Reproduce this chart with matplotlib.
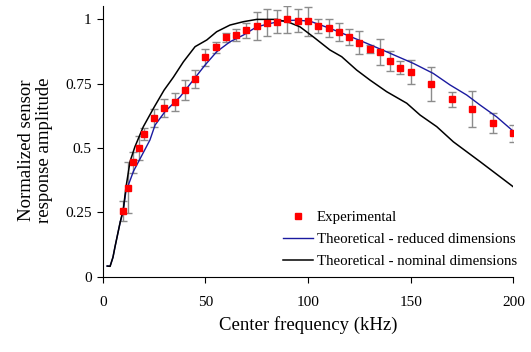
import matplotlib
matplotlib.use("Agg")
import matplotlib.pyplot as plt

plt.rcParams['font.family'] = ['Liberation Serif', 'DejaVu Serif']

# experimental points (kHz, normalized amplitude, half error bar)
freq_exp = [10, 12.5, 15, 17.5, 20, 25, 30, 35, 40, 45, 50, 55, 60, 65, 70, 75, 80, 85, 90, 95,
            100, 105, 110, 115, 120, 125, 130, 135, 140, 145, 150, 160, 170, 180, 190, 200]
amp_exp = [0.255, 0.346, 0.444, 0.501, 0.553, 0.615, 0.656, 0.678, 0.724, 0.768, 0.852, 0.891,
           0.931, 0.939, 0.958, 0.974, 0.987, 0.991, 1.0, 0.995, 0.992, 0.975, 0.967, 0.95,
           0.931, 0.91, 0.886, 0.874, 0.84, 0.812, 0.794, 0.749, 0.69, 0.652, 0.598, 0.557]
err_exp = [0.037, 0.1, 0.042, 0.047, 0.023, 0.035, 0.034, 0.034, 0.039, 0.035, 0.032, 0.023,
           0.018, 0.022, 0.029, 0.053, 0.052, 0.045, 0.054, 0.044, 0.056, 0.026, 0.036, 0.035,
           0.032, 0.045, 0.016, 0.05, 0.039, 0.026, 0.047, 0.065, 0.029, 0.07, 0.038, 0.032]

# theoretical - reduced dimensions
freq_red = [2.2, 3.6, 5, 6, 8.4, 10, 11.3, 12.5, 15, 18.2, 23, 25.5, 30.3, 37.7, 44.1, 49.8,
            55.5, 62, 68.5, 75, 81.5, 88, 94.5, 101, 110.7, 118.9, 128.6, 138.3, 151.3, 161,
            169.2, 177.3, 183.8, 191.9, 200]
amp_red = [0.041, 0.04, 0.075, 0.116, 0.207, 0.259, 0.33, 0.356, 0.41, 0.458, 0.531, 0.589,
           0.641, 0.699, 0.764, 0.822, 0.874, 0.913, 0.939, 0.971, 0.984, 0.995, 0.997, 0.993,
           0.965, 0.939, 0.907, 0.874, 0.829, 0.79, 0.745, 0.706, 0.667, 0.621, 0.565]

# theoretical - nominal dimensions
freq_nom = [2.2, 3.6, 5, 6, 8.4, 10, 11.3, 13.3, 15.7, 19.8, 25, 29.9, 34.4, 39.3, 45, 50.7,
            55.5, 62, 68.5, 75, 84.8, 91.2, 96.1, 102.6, 110.7, 116.4, 123.7, 130.2, 138.3,
            148.1, 154.6, 162.7, 170.8, 183.8, 200]
amp_nom = [0.041, 0.04, 0.075, 0.116, 0.207, 0.259, 0.345, 0.447, 0.505, 0.583, 0.658, 0.725,
           0.775, 0.835, 0.894, 0.92, 0.952, 0.978, 0.991, 1.0, 1.0, 0.987, 0.971, 0.932, 0.881,
           0.855, 0.803, 0.764, 0.719, 0.674, 0.628, 0.583, 0.524, 0.447, 0.349]

fig = plt.figure(figsize=(5.31, 3.52), dpi=100)
ax = fig.add_axes([0.1934, 0.2142, 0.7733, 0.7687])

ax.errorbar(freq_exp, amp_exp, yerr=err_exp, fmt='none', ecolor='#8c8c8c',
            elinewidth=1, capsize=3, capthick=1, zorder=2)
ax.plot(freq_exp, amp_exp, 's', color='#ff0000', markersize=4.2, label='Experimental', zorder=4)
ax.plot(freq_red, amp_red, color='#1a1aa0', lw=1, label='Theoretical - reduced dimensions', zorder=3)
ax.plot(freq_nom, amp_nom, color='black', lw=1.1, label='Theoretical - nominal dimensions', zorder=3)

ax.set_xlim(0, 200)
ax.set_ylim(0, 1.052)
ax.set_xticks([0, 50, 100, 150, 200])
ax.set_yticks([0, 0.25, 0.5, 0.75, 1])
ax.set_yticklabels(['0', '0.25', '0.5', '0.75', '1'])
ax.tick_params(direction='out', length=4, labelsize=11)
ax.tick_params(axis='x', pad=10)
ax.tick_params(axis='y', pad=4)
ax.spines['top'].set_visible(False)
ax.spines['right'].set_visible(False)

ax.set_xlabel('Center frequency (kHz)', fontsize=13.5, labelpad=5)
ax.set_ylabel('Normalized sensor\nresponse amplitude', fontsize=13.5, labelpad=8, linespacing=1.05)
ax.yaxis.set_label_coords(-0.122, 0.468)

ax.legend(loc='lower left', bbox_to_anchor=(0.44, 0.03), frameon=False, fontsize=10.7,
          handlelength=2.0, handletextpad=0.23, labelspacing=0.6, borderpad=0,
          borderaxespad=0)

fig.savefig('out.png', dpi=100)
